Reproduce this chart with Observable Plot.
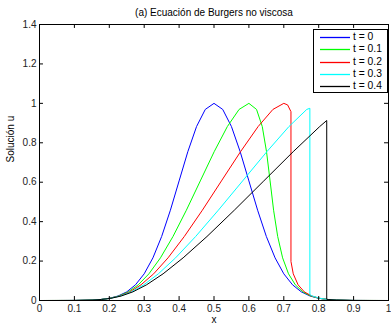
<!DOCTYPE html>
<html>
<head>
<meta charset="utf-8">
<script src="https://cdn.jsdelivr.net/npm/d3@7"></script>
<script src="https://cdn.jsdelivr.net/npm/@observablehq/plot@0.6"></script>
<style>
  body { margin: 0; background: #fff; }
  #wrap { position: relative; width: 391px; height: 325px; font-family: "Liberation Sans", Arial, sans-serif; }
  #legend { position: absolute; left: 313px; top: 29px; width: 73px; height: 62px; border: 1px solid #000; background: #fff; box-sizing: content-box; }
  .row { position: absolute; left: 0; height: 12px; width: 73px; font-size: 10.3px; line-height: 12px; color: #000; }
  .sw { position: absolute; left: 6px; top: 0; }
  .lb { position: absolute; left: 39px; top: 0; white-space: nowrap; }
</style>
</head>
<body>
<div id="wrap"><div id="legend"></div></div>
<script>
const titleText = "(a) Ecuación de Burgers no viscosa";
const xLabel = "x";
const yLabel = "Solución u";
const seriesNames = ["t = 0", "t = 0.1", "t = 0.2", "t = 0.3", "t = 0.4"];
const seriesColors = ["#0000ff", "#00ff00", "#ff0000", "#00ffff", "#000000"];
const xTicks = [0, 0.1, 0.2, 0.3, 0.4, 0.5, 0.6, 0.7, 0.8, 0.9, 1];
const yTicks = [0, 0.2, 0.4, 0.6, 0.8, 1, 1.2, 1.4];

// t = 0
const x_t0 = [0, 0.05, 0.1, 0.15, 0.175, 0.2, 0.225, 0.25, 0.275, 0.3, 0.325, 0.35, 0.375, 0.4, 0.425, 0.45, 0.475, 0.5,
  0.525, 0.55, 0.575, 0.6, 0.625, 0.65, 0.675, 0.7, 0.725, 0.75, 0.775, 0.8, 0.825, 0.85, 0.9, 0.95, 1];
const u_t0 = [0, 0, 0.0003, 0.0022, 0.0051, 0.0111, 0.0228, 0.0439, 0.0796, 0.1353, 0.2163, 0.3247, 0.4578, 0.6065, 0.7548, 0.8825, 0.9692, 1,
  0.9692, 0.8825, 0.7548, 0.6065, 0.4578, 0.3247, 0.2163, 0.1353, 0.0796, 0.0439, 0.0228, 0.0111, 0.0051, 0.0022, 0.0003, 0, 0];

// t = 0.1
const x_t1 = [0, 0.1, 0.1502, 0.1755, 0.2011, 0.2273, 0.2544, 0.283, 0.3135, 0.3466, 0.3825, 0.4208, 0.4607, 0.5005, 0.5383, 0.5719, 0.6,
  0.6219, 0.6383, 0.6505, 0.6607, 0.6708, 0.6825, 0.6966, 0.7135, 0.733, 0.7544, 0.7773, 0.8011, 0.8255, 0.8502, 0.9, 1];
const u_t1 = [0, 0.0003, 0.0022, 0.0051, 0.0111, 0.0228, 0.0439, 0.0796, 0.1353, 0.2163, 0.3247, 0.4578, 0.6065, 0.7548, 0.8825, 0.9692, 1,
  0.9692, 0.8825, 0.7548, 0.6065, 0.4578, 0.3247, 0.2163, 0.1353, 0.0796, 0.0439, 0.0228, 0.0111, 0.0051, 0.0022, 0.0003, 0];

// t = 0.2
const x_t2 = [0, 0.1001, 0.1504, 0.176, 0.2022, 0.2296, 0.2588, 0.2909, 0.3271, 0.3683, 0.4149, 0.4666, 0.5213, 0.576, 0.6265, 0.6688, 0.7, 0.7109, 0.7205,
  0.7205, 0.7271, 0.7409, 0.7588, 0.7796, 0.8022, 0.826, 0.8504, 0.9001, 1];
const u_t2 = [0, 0.0003, 0.0022, 0.0051, 0.0111, 0.0228, 0.0439, 0.0796, 0.1353, 0.2163, 0.3247, 0.4578, 0.6065, 0.7548, 0.8825, 0.9692, 1, 0.9922, 0.958,
  0.198, 0.1353, 0.0796, 0.0439, 0.0228, 0.0111, 0.0051, 0.0022, 0.0003, 0];

// t = 0.3
const x_t3 = [0, 0.1001, 0.1507, 0.1765, 0.2033, 0.2318, 0.2632, 0.2989, 0.3406, 0.3899, 0.4474, 0.5123, 0.582, 0.6514, 0.7148, 0.7658, 0.7747,
  0.7747, 0.7818, 0.8033, 0.8265, 0.8507, 0.9001, 1];
const u_t3 = [0, 0.0003, 0.0022, 0.0051, 0.0111, 0.0228, 0.0439, 0.0796, 0.1353, 0.2163, 0.3247, 0.4578, 0.6065, 0.7548, 0.8825, 0.9692, 0.975,
  0.03, 0.0228, 0.0111, 0.0051, 0.0022, 0.0003, 0];

// t = 0.4
const x_t4 = [0, 0.1001, 0.1509, 0.177, 0.2044, 0.2341, 0.2676, 0.3068, 0.3541, 0.4115, 0.4799, 0.5581, 0.6426, 0.7269, 0.803, 0.823,
  0.823, 0.827, 0.8509, 0.9001, 1];
const u_t4 = [0, 0.0003, 0.0022, 0.0051, 0.0111, 0.0228, 0.0439, 0.0796, 0.1353, 0.2163, 0.3247, 0.4578, 0.6065, 0.7548, 0.8825, 0.913,
  0.006, 0.0051, 0.0022, 0.0003, 0];

const xs = [x_t0, x_t1, x_t2, x_t3, x_t4];
const us = [u_t0, u_t1, u_t2, u_t3, u_t4];
const rows = [];
seriesNames.forEach((name, i) => xs[i].forEach((x, j) => rows.push({series: name, x, u: us[i][j]})));

const fmt = d3.format("~g");
const font = "Liberation Sans, Arial, sans-serif";

const chart = Plot.plot({
  width: 391,
  height: 325,
  marginLeft: 39,
  marginRight: 3,
  marginTop: 24,
  marginBottom: 25,
  style: {fontFamily: font, fontSize: "10px", color: "#000", background: "#fff"},
  x: {domain: [0, 1], label: null},
  y: {domain: [0, 1.4], label: null},
  color: {domain: seriesNames, range: seriesColors},
  marks: [
    Plot.line(rows, {x: "x", y: "u", z: "series", stroke: "series", strokeWidth: 1}),
    Plot.ruleX(xTicks, {x: d => d, y1: 0, y2: 0.02, stroke: "#000"}),
    Plot.ruleX(xTicks, {x: d => d, y1: 1.4, y2: 1.38, stroke: "#000"}),
    Plot.ruleY(yTicks, {y: d => d, x1: 0, x2: 0.0114, stroke: "#000"}),
    Plot.ruleY(yTicks, {y: d => d, x1: 1, x2: 0.9886, stroke: "#000"}),
    Plot.frame({stroke: "#000", strokeWidth: 1}),
    Plot.axisX(xTicks, {anchor: "bottom", tickSize: 0, tickPadding: 4, tickFormat: fmt, fontSize: 10, fill: "#222", label: null}),
    Plot.axisY(yTicks, {anchor: "left", tickSize: 0, tickPadding: 3, tickFormat: fmt, fontSize: 10, fill: "#222", label: null}),
    Plot.text([titleText], {frameAnchor: "top", dy: -12, fontSize: 10, fill: "#000", lineAnchor: "middle"}),
    Plot.text([xLabel], {frameAnchor: "bottom", dy: 19, fontSize: 10, fill: "#000", lineAnchor: "middle"}),
    Plot.text([yLabel], {frameAnchor: "left", dx: -29, rotate: -90, fontSize: 10, fill: "#000", lineAnchor: "middle"})
  ]
});
document.getElementById("wrap").prepend(chart);

const NS = "http://www.w3.org/2000/svg";
const legend = document.getElementById("legend");
seriesNames.forEach((name, i) => {
  const row = document.createElement("div");
  row.className = "row";
  row.style.top = Math.round(1 + i * 12.3) + "px";
  const svg = document.createElementNS(NS, "svg");
  svg.setAttribute("class", "sw");
  svg.setAttribute("width", "31");
  svg.setAttribute("height", "12");
  const ln = document.createElementNS(NS, "line");
  ln.setAttribute("x1", "0");
  ln.setAttribute("x2", "30");
  ln.setAttribute("y1", "6.5");
  ln.setAttribute("y2", "6.5");
  ln.setAttribute("stroke", seriesColors[i]);
  ln.setAttribute("stroke-width", "1.3");
  svg.appendChild(ln);
  const lb = document.createElement("div");
  lb.className = "lb";
  lb.textContent = name;
  row.appendChild(svg);
  row.appendChild(lb);
  legend.appendChild(row);
});
</script>
</body>
</html>
